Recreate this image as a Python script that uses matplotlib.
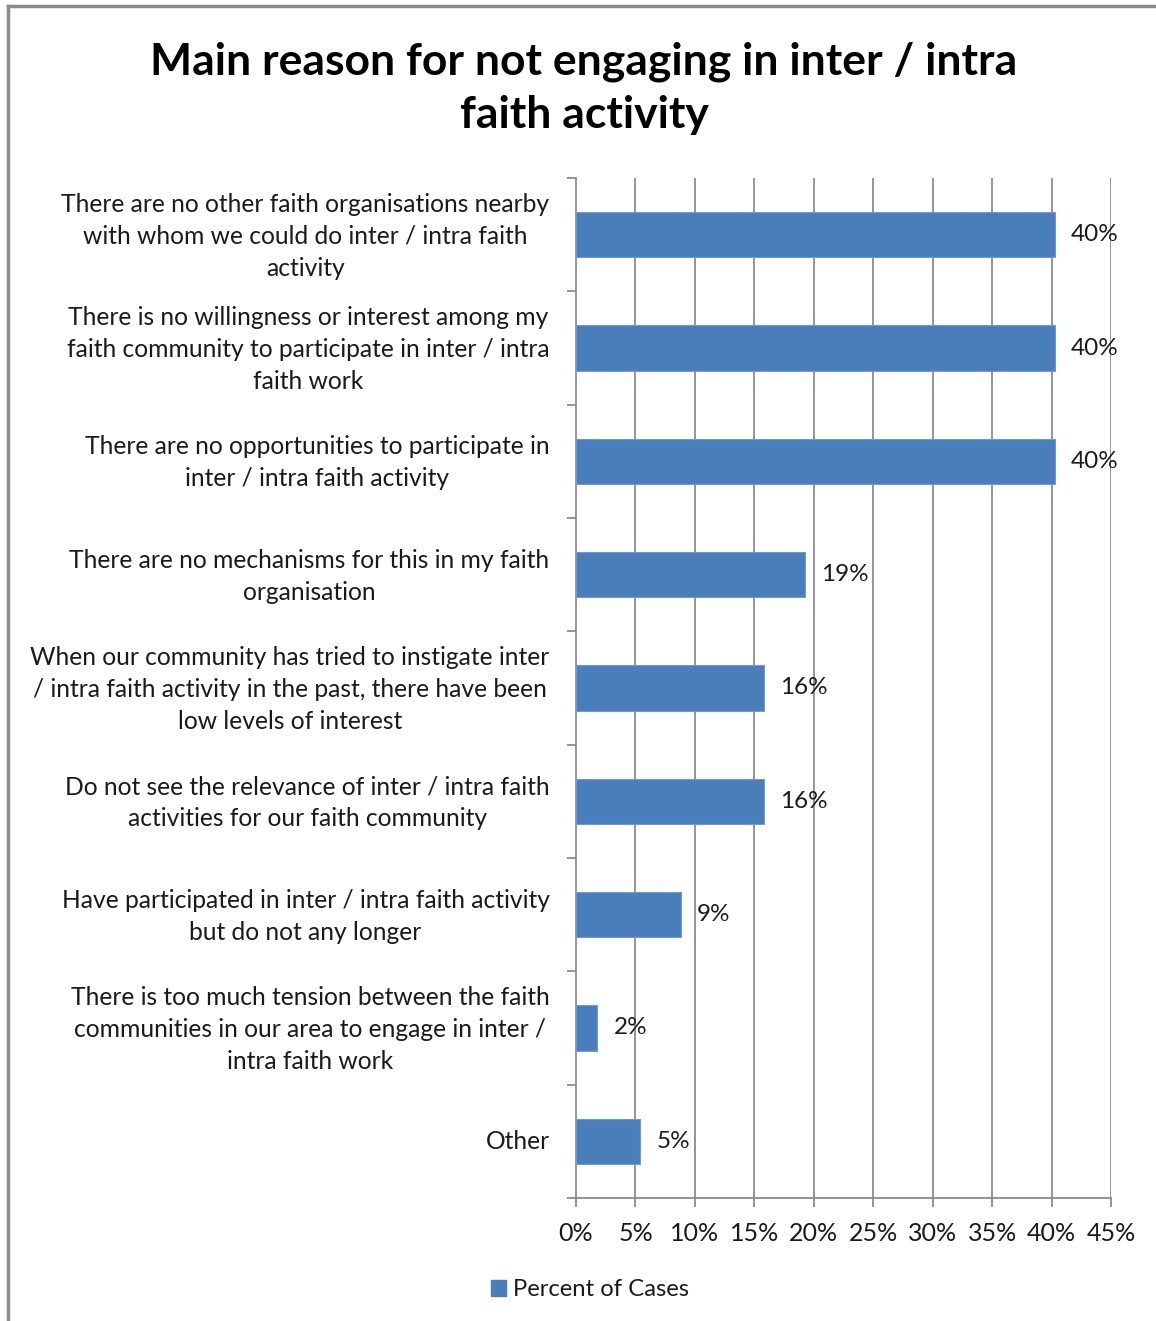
import matplotlib
matplotlib.use("Agg")
import matplotlib.pyplot as plt
import matplotlib.transforms as mtransforms
from matplotlib.lines import Line2D
from matplotlib.patches import Patch
import numpy as np

# Survey results: main reason for not engaging in inter / intra faith activity
categories = [
    "There are no other faith organisations nearby\nwith whom we could do inter / intra faith\nactivity",
    "There is no willingness or interest among my\nfaith community to participate in inter / intra\nfaith work",
    "There are no opportunities to participate in\ninter / intra faith activity",
    "There are no mechanisms for this in my faith\norganisation",
    "When our community has tried to instigate inter\n/ intra faith activity in the past, there have been\nlow levels of interest",
    "Do not see the relevance of inter / intra faith\nactivities for our faith community",
    "Have participated in inter / intra faith activity\nbut do not any longer",
    "There is too much tension between the faith\ncommunities in our area to engage in inter /\nintra faith work",
    "Other",
]
percent_of_cases = [40.3, 40.3, 40.3, 19.3, 15.8, 15.8, 8.8, 1.8, 5.4]
x_ticks = [0, 5, 10, 15, 20, 25, 30, 35, 40, 45]
x_tick_labels = [f"{t}%" for t in x_ticks]
series_name = "Percent of Cases"
title = "Main reason for not engaging in inter / intra\nfaith activity"

FONT = ["Lato", "DejaVu Sans"]
BAR = "#4a7ebb"
GRID = "#8c8c8c"
TEXT = "#1a1a1a"

W, H = 1156, 1321
fig = plt.figure(figsize=(W / 100, H / 100), dpi=100)
fig.patch.set_facecolor("white")
plt.rcParams["font.family"] = FONT

ax = fig.add_axes([576 / W, 1 - 1198 / H, (1111 - 576) / W, (1198 - 178) / H])

n = len(categories)
y = np.arange(n)
ax.barh(y, percent_of_cases, height=0.4, color=BAR, edgecolor="#6f9ad0",
        linewidth=0.8, zorder=3)
ax.set_ylim(n - 0.5, -0.5)
ax.set_xlim(0, 45)

# value labels to the right of each bar
for yi, v in zip(y, percent_of_cases):
    ax.text(v + 1.35, yi, f"{v:.0f}%", va="center", ha="left",
            fontsize=17.5, color=TEXT, zorder=4)

# vertical gridlines
ax.set_xticks(x_ticks)
ax.set_xticklabels(x_tick_labels, fontsize=18, color=TEXT)
for t in x_ticks[1:]:
    ax.axvline(t, color=GRID, linewidth=1.3, zorder=1)

ax.set_yticks(y)
ax.set_yticklabels(categories, fontsize=17.7, color=TEXT, ha="right",
                   multialignment="center", linespacing=1.47)
ax.set_yticks(np.arange(n + 1) - 0.5, minor=True)
ax.tick_params(axis="y", which="major", length=0, pad=19)
ax.tick_params(axis="y", which="minor", length=6.5, color=GRID, width=1.3,
               direction="out")
ax.tick_params(axis="x", which="major", length=6.5, color=GRID, width=1.3,
               direction="out", pad=11)

# nudge multi-line category labels up slightly so they sit on the bar centre
for lbl in ax.get_yticklabels():
    dy = 5 if "\n" in lbl.get_text() else 2
    lbl.set_transform(lbl.get_transform() +
                      mtransforms.ScaledTranslation(0, dy / 100, fig.dpi_scale_trans))

for side in ("top", "right"):
    ax.spines[side].set_visible(False)
for side in ("left", "bottom"):
    ax.spines[side].set_color(GRID)
    ax.spines[side].set_linewidth(1.3)

# chart title
fig.text(584 / W, 1 - 88 / H, title, ha="center", va="center",
         fontsize=32, fontweight="bold", color="black", linespacing=1.4)

# legend
leg = fig.legend(handles=[Patch(facecolor=BAR, edgecolor=BAR)],
                 labels=[series_name], loc="center",
                 bbox_to_anchor=(590 / W, 1 - 1290 / H), frameon=False,
                 fontsize=17.2, handlelength=0.65, handleheight=0.65,
                 handletextpad=0.3, labelcolor=TEXT)

# outer chart frame
frame_kw = dict(color="#8a8a8a", linewidth=2.5, transform=fig.transFigure)
fig.add_artist(Line2D([8 / W, 8 / W], [0, 1 - 6 / H], **frame_kw))
fig.add_artist(Line2D([8 / W, 1], [1 - 6 / H, 1 - 6 / H], **frame_kw))

fig.savefig("out.png", dpi=100, facecolor="white")
